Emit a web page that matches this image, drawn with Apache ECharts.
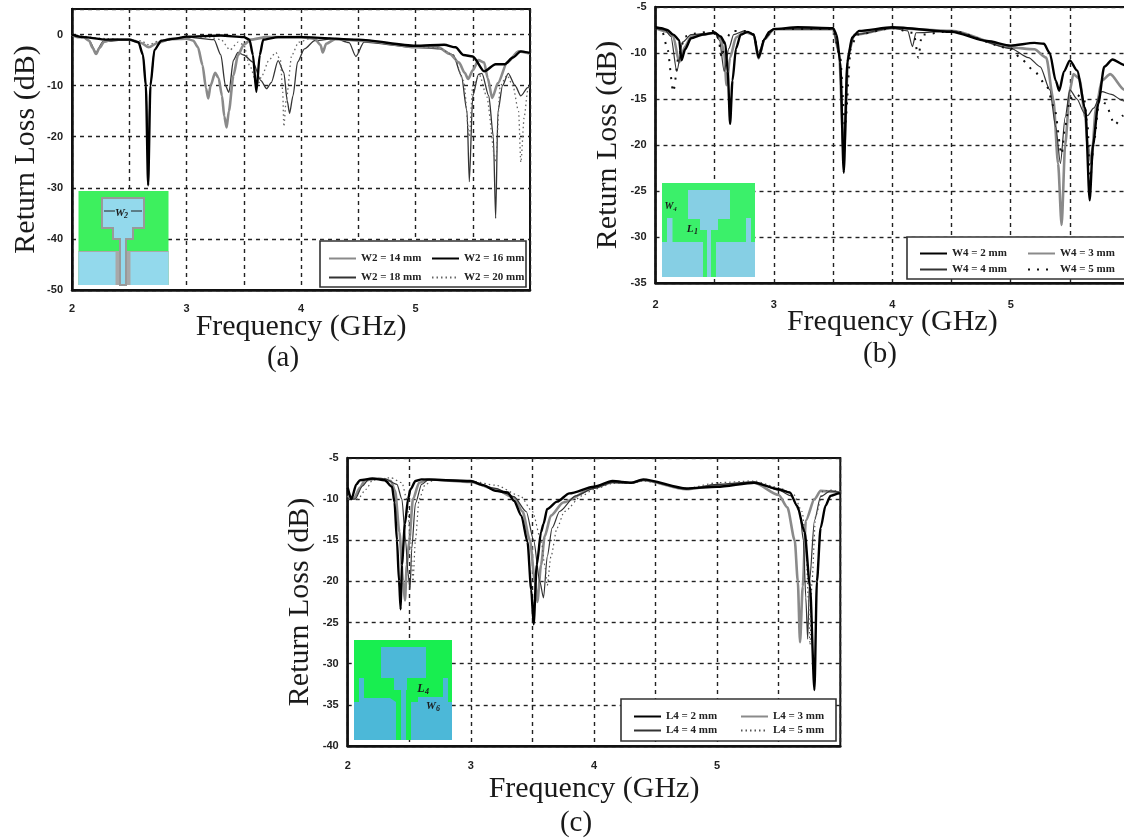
<!DOCTYPE html>
<html><head><meta charset="utf-8">
<style>html,body{margin:0;padding:0;background:#fff}#c{width:1124px;height:838px}</style>
<script src="https://cdn.jsdelivr.net/npm/echarts@6/dist/echarts.min.js"></script></head>
<body><div id="c"></div>
<script>
// (a) frequency in GHz, return loss in dB
const a14=[[2,0],[2.05,-.5],[2.1,-.5],[2.15,-1.2],[2.18,-2.6],[2.21,-3.8],[2.24,-2.6],[2.28,-1.4],[2.35,-1],[2.5,-1],[2.6,-1.6],[2.67,-2.5],[2.75,-1.6],[2.85,-.9],[3,-.8],[3.06,-1.2],[3.1,-2.5],[3.14,-6],[3.17,-10.5],[3.19,-12.5],[3.21,-10],[3.25,-7.5],[3.28,-8.5],[3.31,-12],[3.33,-16],[3.35,-18.2],[3.37,-15],[3.41,-8],[3.45,-4],[3.5,-2],[3.56,-1],[3.7,-.5],[4,-.5],[4.12,-.8],[4.17,-2],[4.19,-3.5],[4.22,-1.8],[4.3,-.9],[4.6,-1.3],[5,-2.5],[5.2,-2.5],[5.3,-3.8],[5.38,-5.5],[5.43,-7.5],[5.46,-8.7],[5.5,-7],[5.55,-5],[5.6,-5.5],[5.63,-8.5],[5.67,-12.4],[5.72,-9.5],[5.8,-5.5],[5.9,-3.3],[6,-3.7]];
const a16=[[2,0],[2.1,-.5],[2.3,-1],[2.5,-1],[2.58,-1.5],[2.62,-4],[2.645,-10],[2.665,-29.5],[2.685,-10],[2.72,-3],[2.78,-1.2],[2.9,-.8],[3,-.4],[3.3,-.2],[3.5,-.5],[3.55,-1],[3.58,-4],[3.61,-11.2],[3.64,-4],[3.67,-1],[3.8,-.5],[4,-.5],[4.5,-1],[5,-2.2],[5.25,-2],[5.35,-2.5],[5.42,-4],[5.5,-4.3],[5.6,-7.2],[5.7,-5.8],[5.78,-5.8],[5.85,-4.5],[5.92,-3.3],[6,-3.6]];
const a18=[[2,0],[2.1,-.5],[2.15,-1.2],[2.21,-3.5],[2.27,-1.4],[2.5,-1],[2.58,-1.5],[2.62,-4],[2.645,-10],[2.665,-24],[2.685,-10],[2.72,-3],[2.78,-1.2],[3,-.5],[3.24,-1],[3.3,-4],[3.34,-10],[3.37,-11.3],[3.41,-5],[3.45,-3.5],[3.5,-4],[3.58,-5.4],[3.65,-9],[3.7,-10.6],[3.74,-9.4],[3.8,-5.1],[3.85,-7.4],[3.88,-13],[3.9,-15.4],[3.93,-12],[3.97,-5.4],[4.03,-2.8],[4.12,-1.2],[4.3,-.8],[4.42,-1.6],[4.48,-4.3],[4.55,-1.5],[5,-2.5],[5.21,-2.8],[5.33,-4],[5.4,-8],[5.45,-15],[5.47,-28.8],[5.5,-12],[5.55,-7.8],[5.58,-7.6],[5.64,-12],[5.68,-20],[5.7,-36],[5.72,-15],[5.76,-10],[5.81,-7.6],[5.87,-10],[5.92,-12],[5.98,-10.4],[6,-10]];
const a20=[[2,0],[2.3,-.8],[2.6,-1.2],[2.67,-2],[2.75,-1.3],[3,-.5],[3.2,-.5],[3.3,-1],[3.38,-3],[3.45,-1.5],[3.5,-2],[3.55,-6],[3.62,-10],[3.66,-8],[3.72,-5],[3.78,-3.5],[3.82,-5],[3.84,-11],[3.85,-18],[3.87,-13],[3.92,-4],[3.98,-1.5],[4.1,-.6],[4.5,-1],[5,-2.3],[5.2,-2.6],[5.33,-4],[5.42,-9],[5.47,-20],[5.5,-10],[5.56,-8],[5.62,-12],[5.7,-25],[5.74,-10],[5.8,-8],[5.85,-10],[5.9,-15],[5.92,-25],[5.95,-16],[5.98,-11],[6,-10]];
// (b)
const b2=[[2,-7.2],[2.05,-7.3],[2.1,-7.5],[2.15,-8],[2.2,-8.6],[2.22,-10.8],[2.25,-9.6],[2.3,-8.4],[2.4,-8],[2.5,-7.8],[2.55,-8.2],[2.59,-9],[2.61,-12],[2.63,-17.7],[2.65,-13],[2.68,-9.5],[2.72,-8],[2.78,-7.7],[2.83,-8],[2.87,-10.5],[2.92,-8.5],[2.96,-7.7],[3,-7.4],[3.2,-7.2],[3.5,-7.3],[3.53,-8],[3.56,-11],[3.59,-23],[3.62,-11],[3.66,-8.3],[3.72,-7.6],[4,-7.2],[4.5,-7.7],[4.8,-8.7],[5,-9.2],[5.2,-8.9],[5.28,-9],[5.33,-10],[5.38,-13],[5.41,-14.1],[5.45,-12],[5.5,-10.8],[5.56,-11.9],[5.63,-16],[5.667,-26],[5.695,-20],[5.74,-15.5],[5.79,-11.5],[5.86,-10.7],[5.96,-11.3],[6,-11.7]];
const b3=[[2,-7.3],[2.1,-7.7],[2.15,-8.2],[2.2,-11],[2.25,-9.3],[2.3,-8.2],[2.4,-8],[2.5,-7.8],[2.55,-8.4],[2.58,-10],[2.6,-13.5],[2.63,-10.5],[2.68,-8.3],[2.75,-7.7],[2.83,-8],[2.87,-10.6],[2.92,-8.5],[3,-7.4],[3.5,-7.4],[3.55,-10],[3.59,-21],[3.63,-10],[3.68,-8],[4,-7.3],[4.5,-7.6],[5,-9.4],[5.2,-9.6],[5.3,-10.5],[5.36,-15],[5.4,-22],[5.43,-28.7],[5.46,-20],[5.5,-14],[5.53,-12.3],[5.58,-12.8],[5.63,-17],[5.65,-20],[5.68,-22],[5.72,-16],[5.77,-13],[5.84,-12.3],[5.96,-14],[6,-13.5]];
const b4=[[2,-7.3],[2.08,-7.5],[2.13,-8.2],[2.18,-12],[2.23,-8.8],[2.3,-8],[2.5,-7.8],[2.54,-8.6],[2.58,-12],[2.62,-9.5],[2.66,-8],[2.75,-7.6],[2.83,-8],[2.87,-10.4],[2.92,-8.5],[3,-7.4],[3.5,-7.4],[3.55,-10],[3.59,-20],[3.63,-10],[3.68,-8],[4,-7.3],[4.13,-7.6],[4.17,-9.3],[4.2,-7.8],[4.5,-7.6],[5,-9.5],[5.15,-10.5],[5.25,-11.5],[5.33,-14],[5.38,-18],[5.42,-22],[5.46,-17],[5.5,-14],[5.56,-15],[5.62,-16.5],[5.65,-16.8],[5.7,-16],[5.77,-14.2],[5.85,-14.5],[5.95,-15.2],[6,-14.5]];
const b5=[[2,-7.3],[2.06,-7.8],[2.1,-9.5],[2.15,-14.2],[2.2,-10],[2.25,-8.2],[2.32,-7.9],[2.5,-7.6],[2.53,-8.4],[2.56,-10.5],[2.59,-8.5],[2.65,-7.6],[2.75,-7.6],[2.83,-8],[2.87,-10.2],[2.92,-8.4],[3,-7.4],[3.5,-7.4],[3.56,-10.5],[3.6,-18],[3.65,-9.5],[3.7,-8],[4,-7.3],[4.18,-7.8],[4.22,-10.5],[4.25,-8],[4.5,-7.6],[5,-9.5],[5.1,-10.8],[5.2,-12],[5.3,-13.5],[5.37,-16],[5.43,-21],[5.46,-18],[5.5,-15],[5.55,-14.5],[5.62,-15],[5.65,-18],[5.67,-24],[5.7,-20],[5.75,-15],[5.8,-15.5],[5.88,-17.8],[5.95,-16.8],[6,-14.5]];
// (c)
const c2=[[2,-8.6],[2.03,-10],[2.07,-8.2],[2.1,-7.7],[2.2,-7.5],[2.3,-7.7],[2.36,-8.5],[2.38,-10.4],[2.4,-15],[2.417,-20],[2.43,-23.4],[2.44,-18],[2.465,-13],[2.49,-10],[2.51,-8.8],[2.55,-7.8],[2.6,-7.6],[3,-7.8],[3.1,-8.3],[3.2,-9],[3.3,-9.2],[3.35,-10.2],[3.41,-12],[3.46,-15.2],[3.49,-21],[3.51,-25.2],[3.535,-18],[3.57,-14],[3.59,-13],[3.62,-11.2],[3.7,-10.3],[3.8,-9.3],[4,-8.5],[4.15,-7.8],[4.3,-8],[4.4,-7.6],[4.75,-8.7],[5,-8.5],[5.3,-8],[5.5,-8.8],[5.59,-9.2],[5.65,-10.8],[5.71,-14],[5.754,-20.6],[5.79,-33.2],[5.81,-20],[5.84,-13.5],[5.88,-10.8],[5.92,-9.6],[5.99,-9.3],[6,-9.3]];
const c3=[[2,-9.6],[2.05,-9.9],[2.1,-8.6],[2.14,-7.7],[2.25,-7.5],[2.35,-7.8],[2.385,-9],[2.42,-14],[2.45,-20],[2.465,-22.3],[2.48,-18],[2.5,-15],[2.53,-10],[2.58,-8],[2.65,-7.6],[3,-7.9],[3.2,-8.8],[3.35,-9.8],[3.42,-11.5],[3.48,-15],[3.52,-20],[3.54,-22.5],[3.57,-18],[3.6,-14.5],[3.65,-12],[3.75,-10.4],[4,-8.6],[4.15,-7.9],[4.3,-8],[4.4,-7.7],[4.75,-8.8],[5,-8.3],[5.3,-8],[5.5,-9.5],[5.57,-11],[5.63,-15],[5.655,-20],[5.673,-27.4],[5.695,-20.6],[5.72,-12.6],[5.79,-10],[5.84,-9],[6,-9.2]];
const c4=[[2,-10],[2.06,-10],[2.12,-8.4],[2.17,-7.6],[2.3,-7.5],[2.4,-8.2],[2.44,-10],[2.47,-15],[2.49,-19],[2.506,-21],[2.52,-16],[2.55,-10.5],[2.6,-8.2],[2.66,-7.6],[3,-7.9],[3.2,-8.7],[3.35,-9.7],[3.45,-11.5],[3.51,-15],[3.56,-20],[3.59,-22],[3.62,-17],[3.66,-13.5],[3.72,-11.5],[3.85,-9.6],[4,-8.7],[4.15,-8],[4.3,-8.1],[4.4,-7.7],[4.75,-8.8],[5,-8.2],[5.3,-7.9],[5.5,-8.9],[5.6,-9.6],[5.67,-11.5],[5.7,-15],[5.72,-22],[5.735,-27],[5.75,-20],[5.79,-12.6],[5.84,-9.7],[5.92,-9],[6,-9.2]];
const c5=[[2,-10],[2.08,-10],[2.15,-8.8],[2.2,-7.7],[2.35,-7.4],[2.44,-8],[2.48,-10],[2.51,-15],[2.53,-20],[2.55,-15],[2.58,-10],[2.63,-8.2],[2.7,-7.7],[3,-7.8],[3.2,-8.3],[3.4,-9.6],[3.5,-11.5],[3.57,-15],[3.6,-18],[3.62,-20.5],[3.65,-17],[3.7,-13.5],[3.76,-11.5],[3.9,-9.6],[4,-8.8],[4.15,-8.1],[4.3,-8.1],[4.4,-7.8],[4.75,-8.7],[5,-8],[5.3,-7.8],[5.5,-8.6],[5.62,-9.4],[5.69,-11.5],[5.72,-15],[5.74,-22],[5.754,-27.7],[5.77,-20],[5.8,-12],[5.86,-9],[5.93,-8.9],[6,-9.1]];

const namesA=['W2 = 14 mm','W2 = 16 mm','W2 = 18 mm','W2 = 20 mm'];
const namesB=['W4 = 2 mm','W4 = 3 mm','W4 = 4 mm','W4 = 5 mm'];
const namesC=['L4 = 2 mm','L4 = 3 mm','L4 = 4 mm','L4 = 5 mm'];
const xTicks=[2,3,4,5];

const serif='"Liberation Serif",serif', sans='"Liberation Sans",sans-serif', ink='#1a1a1a';
const grids=[{left:72,top:9,width:458,height:281},{left:655.5,top:7,width:473.6,height:276},{left:347.7,top:458,width:492.6,height:288}];
const ranges=[[-50,5,10],[-35,-5,5],[-40,-5,5]];
const gaps=[[22,31],[24,32],[28,33]];
const margins=[13,16,14];
const sd={width:1.4,color:'#222',type:[4,4]};
const styleA=[{width:2.6,color:'#8a8a8a'},{width:2.4,color:'#000'},{width:1.3,color:'#333'},{width:1.3,color:'#666',type:[1.5,3]}];
const styleB=[{width:2.4,color:'#000'},{width:2.6,color:'#8a8a8a'},{width:1.2,color:'#333'},{width:2,color:'#111',type:[2,7]}];
const styleC=[{width:2.4,color:'#000'},{width:2.6,color:'#8a8a8a'},{width:1.2,color:'#333'},{width:1.2,color:'#555',type:[1.5,3]}];

const xAxes=grids.map((g,i)=>({gridIndex:i,type:'value',min:2,max:6,interval:.5,
  name:'Frequency (GHz)',nameLocation:'middle',nameGap:gaps[i][0],nameMoveOverlap:false,
  nameTextStyle:{fontFamily:serif,fontSize:30,color:ink},
  axisLine:{show:true,onZero:false,lineStyle:{color:'#111',width:2.5}},axisTick:{show:false},
  splitLine:{show:true,lineStyle:sd},
  axisLabel:{margin:margins[i],fontFamily:sans,fontWeight:'bold',fontSize:11,color:'#222',
    formatter:v=>xTicks.includes(v)?String(v):''}}));
const yAxes=grids.map((g,i)=>({gridIndex:i,type:'value',min:ranges[i][0],max:ranges[i][1],interval:ranges[i][2],
  name:'Return Loss (dB)',nameLocation:'middle',nameGap:gaps[i][1],nameMoveOverlap:false,
  nameTextStyle:{fontFamily:serif,fontSize:30,color:ink},
  axisLine:{show:true,onZero:false,lineStyle:{color:'#111',width:2.5}},axisTick:{show:false},
  splitLine:{show:true,lineStyle:sd},
  axisLabel:{margin:9,fontFamily:sans,fontWeight:'bold',fontSize:11,color:'#222',
    formatter:v=>(v===5?'':String(v))}}));

function mk(name,data,i,ls){return {name,type:'line',xAxisIndex:i,yAxisIndex:i,data,symbol:'none',smooth:.25,smoothMonotone:'x',lineStyle:ls,itemStyle:{color:ls.color},clip:true,z:3,animation:false};}
const series=[
 ...[2,0,3,1].map(k=>mk(namesA[k],[a14,a16,a18,a20][k],0,styleA[k])),
 ...[1,2,3,0].map(k=>mk(namesB[k],[b2,b3,b4,b5][k],1,styleB[k])),
 ...[1,2,3,0].map(k=>mk(namesC[k],[c2,c3,c4,c5][k],2,styleC[k]))
];
// one vertical legend per column, so the columns sit where the reference has them
function col(names,left,top,gap){return {orient:'vertical',data:names,left,top,itemWidth:27,itemHeight:8,itemGap:gap,selectedMode:false,padding:0,z:6,itemStyle:{opacity:0},
  textStyle:{fontFamily:serif,fontWeight:'bold',fontSize:11,color:'#222'}};}
const legends=[
 col([namesA[0],namesA[2]],328,253,8),col([namesA[1],namesA[3]],431,253,8),
 col([namesB[0],namesB[2]],919,248,5),col([namesB[1],namesB[3]],1027,248,5),
 col([namesC[0],namesC[2]],633,711,3),col([namesC[1],namesC[3]],740,711,3)];

// decorative antenna insets and legend boxes, in pixels of the page
function poly(pts,fill,stroke,lw){return {type:'polygon',shape:{points:pts},style:{fill,stroke:stroke||null,lineWidth:lw||0},z:5,silent:true};}
function rect(x,y,w,h,fill){return {type:'rect',shape:{x,y,width:w,height:h},style:{fill},z:5,silent:true};}
function box(x,y,w,h){return {type:'rect',shape:{x,y,width:w,height:h},style:{fill:'#fff',stroke:'#333',lineWidth:1.6},z:5,silent:true};}
function txt(x,y,t,size,font,extra){return {type:'text',x,y,style:{text:t,fontSize:size,fontFamily:font,fill:ink,textAlign:'center',textVerticalAlign:'middle',...extra},z:7,silent:true};}
const it={fontStyle:'italic',fontWeight:'bold'};
const graphicEls=[
 box(320,241,206,46),box(907,237,219,42),box(621,699,215,42),
 // (a)
 rect(78.5,191,90,94,'#3df05e'),rect(78.5,251,90,34,'#a8a8a8'),
 rect(78.5,252,37,33,'#93d9ec'),rect(130.5,252,38,33,'#93d9ec'),
 poly([[102,198],[144,198],[144,228],[133,228],[133,239],[126,239],[126,285],[120,285],[120,239],[113,239],[113,228],[102,228]],'#93d9ec','#999',2),
 txt(120,213,'W',11,serif,it),txt(126,216,'2',8,serif,it),
 {type:'line',shape:{x1:104,y1:211,x2:115,y2:211},style:{stroke:'#222',lineWidth:1},z:7,silent:true},
 {type:'line',shape:{x1:131,y1:211,x2:142,y2:211},style:{stroke:'#222',lineWidth:1},z:7,silent:true},
 // (b)
 rect(662,183,93,94,'#3bf06a'),
 poly([[662,242],[667,242],[667,218],[672.5,218],[672.5,242],[703,242],[703,277],[662,277]],'#86cfe4'),
 poly([[755,242],[751,242],[751,218],[746,218],[746,242],[716,242],[716,277],[755,277]],'#86cfe4'),
 poly([[688,190],[730,190],[730,219],[718,219],[718,230],[711,230],[711,277],[707,277],[707,230],[700,230],[700,219],[688,219]],'#86cfe4'),
 txt(669,206,'W',10,serif,it),txt(675,209,'4',7,serif,it),txt(690,229,'L',11,serif,it),txt(696,232,'1',8,serif,it),
 // (c)
 rect(354,640,98,100,'#18ee50'),
 poly([[354,702],[359,702],[359,678],[364,678],[364,698],[390,698],[396,702],[396,740],[354,740]],'#4cb8d8'),
 poly([[411,740],[411,702],[418,702],[418,697],[443,697],[443,678],[448,678],[448,702],[452,702],[452,740]],'#4cb8d8'),
 poly([[381,647],[426,647],[426,678],[407,678],[407,690],[402,690],[402,740],[401,740],[401,690],[394,690],[394,678],[381,678]],'#4cb8d8'),
 rect(401,690,5,50,'#4cb8d8'),
 txt(421,689,'L',12,serif,it),txt(427,692,'4',8,serif,it),txt(431,706,'W',11,serif,it),txt(438,709,'6',8,serif,it),
 // captions
 txt(283,358,'(a)',29,serif),txt(880,354,'(b)',29,serif),txt(576,823,'(c)',29,serif)
];
const chart=echarts.init(document.getElementById('c'),null,{renderer:'canvas'});
chart.setOption({animation:false,backgroundColor:'#fff',
  grid:grids.map(g=>({...g,show:true,borderColor:'#111',borderWidth:2,backgroundColor:'transparent',outerBoundsMode:'none'})),
  xAxis:xAxes,yAxis:yAxes,series,legend:legends,graphic:{elements:graphicEls}});
</script></body></html>
